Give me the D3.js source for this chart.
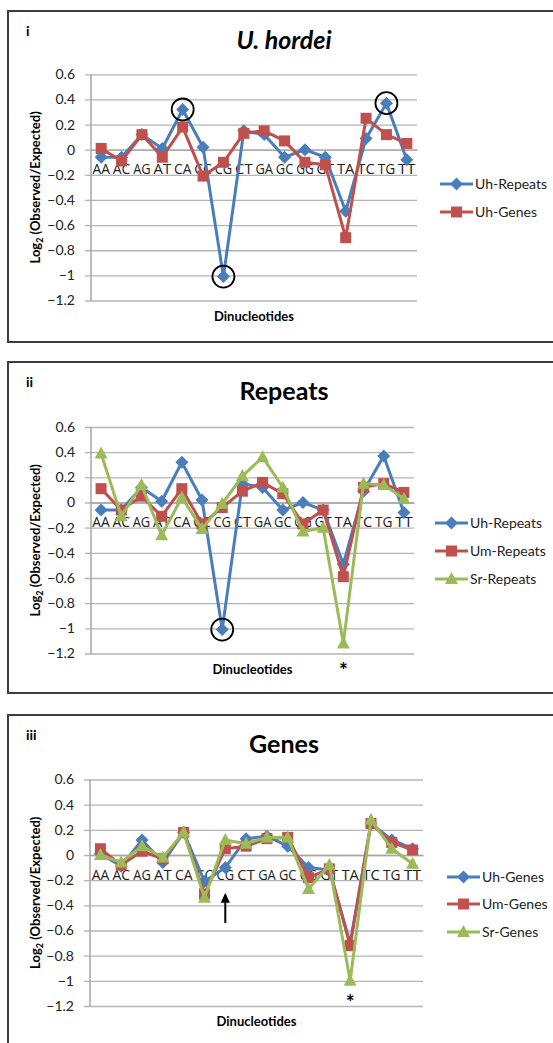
<!DOCTYPE html>
<html>
<head>
<meta charset="utf-8">
<script src="https://cdn.jsdelivr.net/npm/d3@7"></script>
<style>
  body { margin: 0; background: #fff; }
  svg { display: block; font-family: Lato, "Open Sans", sans-serif; }
</style>
</head>
<body>
<svg id="chart" width="553" height="1043"></svg>
<script>
// dinucleotides on the category axis
const categories = ["AA","AC","AG","AT","CA","CC","CG","CT","GA","GC","GG","GT","TA","TC","TG","TT"];
const yTicks = [0.6, 0.4, 0.2, 0, -0.2, -0.4, -0.6, -0.8, -1, -1.2];

// log2(observed/expected) per dinucleotide
const uhRepeats = [-0.06,-0.06, 0.12, 0.01, 0.32, 0.02,-1.01, 0.15, 0.12,-0.06, 0.00,-0.06,-0.49, 0.09, 0.37,-0.08];
const uhGenes   = [ 0.01,-0.09, 0.12,-0.06, 0.18,-0.21,-0.10, 0.13, 0.15, 0.07,-0.10,-0.12,-0.70, 0.25, 0.12, 0.05];
const umRepeats = [ 0.11,-0.06, 0.05,-0.11, 0.11,-0.17,-0.04, 0.09, 0.16, 0.07,-0.17,-0.06,-0.59, 0.12, 0.15, 0.08];
const srRepeats = [ 0.39,-0.11, 0.14,-0.26, 0.04,-0.21,-0.01, 0.21, 0.36, 0.12,-0.23,-0.20,-1.12, 0.15, 0.14, 0.03];
const umGenes   = [ 0.05,-0.08, 0.03,-0.03, 0.18,-0.31, 0.05, 0.07, 0.13, 0.14,-0.18,-0.11,-0.72, 0.25, 0.10, 0.04];
const srGenes   = [ 0.00,-0.06, 0.07,-0.02, 0.18,-0.34, 0.12, 0.09, 0.14, 0.14,-0.27,-0.08,-1.00, 0.28, 0.05,-0.07];

const BLUE = "#4a7ebb", RED = "#c0504d", GREEN = "#9bbb59";

const panels = [
  {
    tag: "i", title: "U. hordei", italic: true,
    box: { top: 11, bottom: 342 },
    plot: { left: 91, right: 417, top: 74.3, bottom: 300.5 },
    legend: { x: 440, ys: [184, 212] },
    series: [
      { name: "Uh-Repeats", values: uhRepeats, color: BLUE, shape: "diamond" },
      { name: "Uh-Genes", values: uhGenes, color: RED, shape: "square" }
    ],
    circles: [["CA", 0.32], ["CG", -1.01], ["TG", 0.37]]
  },
  {
    tag: "ii", title: "Repeats",
    box: { top: 362, bottom: 693 },
    plot: { left: 91, right: 414, top: 427, bottom: 653.5 },
    legend: { x: 435, ys: [523, 551, 579] },
    series: [
      { name: "Uh-Repeats", values: uhRepeats, color: BLUE, shape: "diamond" },
      { name: "Um-Repeats", values: umRepeats, color: RED, shape: "square" },
      { name: "Sr-Repeats", values: srRepeats, color: GREEN, shape: "triangle" }
    ],
    circles: [["CG", -1.01]],
    star: ["TA", -1.12, 24]
  },
  {
    tag: "iii", title: "Genes",
    box: { top: 715, bottom: 1060 },
    plot: { left: 90, right: 423, top: 779.5, bottom: 1006 },
    legend: { x: 447, ys: [877, 904, 932] },
    series: [
      { name: "Uh-Genes", values: uhGenes, color: BLUE, shape: "diamond" },
      { name: "Um-Genes", values: umGenes, color: RED, shape: "square" },
      { name: "Sr-Genes", values: srGenes, color: GREEN, shape: "triangle" }
    ],
    star: ["TA", -1.0, 18],
    arrow: ["CG", -0.3, -0.54]
  }
];

const svg = d3.select("#chart");

function markerPath(shape) {
  if (shape === "diamond") return "M0,-6.5L6.5,0L0,6.5L-6.5,0Z";
  if (shape === "square") return "M-5.5,-5.5H5.5V5.5H-5.5Z";
  return "M0,-7L6.5,5L-6.5,5Z";
}

panels.forEach(drawPanel);

function drawPanel(p) {
  const g = svg.append("g");

  // panel frame (open on the right, like the cropped figure)
  g.append("path")
    .attr("d", `M553,${p.box.top}H8V${p.box.bottom}H553`)
    .attr("fill", "none")
    .attr("stroke", "#3c3c3c")
    .attr("stroke-width", 2);

  g.append("text")
    .attr("x", 26).attr("y", p.box.top + 25)
    .attr("font-size", 14).attr("font-weight", "bold")
    .text(p.tag);

  g.append("text")
    .attr("x", 284).attr("y", p.box.top + 38)
    .attr("text-anchor", "middle")
    .attr("font-size", 25).attr("font-weight", "bold")
    .attr("font-style", p.italic ? "italic" : "normal")
    .text(p.title);

  const x = d3.scaleBand().domain(categories).range([p.plot.left, p.plot.right]);
  const y = d3.scaleLinear().domain([-1.2, 0.6]).range([p.plot.bottom, p.plot.top]);
  const cx = c => x(c) + x.bandwidth() / 2;

  // gridlines + y axis
  const yAxis = d3.axisLeft(y).tickValues(yTicks)
    .tickSize(-(p.plot.right - p.plot.left + 6))
    .tickPadding(10)
    .tickFormat(d => d === 0 ? "0" : d3.format("")(d));
  const ya = g.append("g")
    .attr("transform", `translate(${p.plot.left - 6},0)`)
    .call(yAxis);
  ya.select(".domain").remove();
  ya.selectAll(".tick line").attr("stroke", "#b4b4b4").attr("stroke-width", 1.3);
  ya.selectAll(".tick text")
    .attr("font-size", 14).attr("fill", "#222")
    .attr("font-family", "Lato, sans-serif");

  g.append("line")
    .attr("x1", p.plot.left).attr("x2", p.plot.left)
    .attr("y1", p.plot.top).attr("y2", p.plot.bottom)
    .attr("stroke", "#a6a6a6").attr("stroke-width", 1.5);

  // category axis crosses at 0
  const xa = g.append("g")
    .attr("transform", `translate(0,${y(0)})`)
    .call(d3.axisBottom(x).tickSize(0).tickPadding(14));
  xa.select(".domain").attr("stroke", "#a6a6a6").attr("stroke-width", 1.3);
  xa.selectAll(".tick text")
    .attr("font-size", 15).attr("fill", "#222")
    .attr("font-family", "'Open Sans', sans-serif")
    .attr("textLength", 17.5)
    .attr("lengthAdjust", "spacingAndGlyphs");

  // axis titles
  const yt = g.append("text")
    .attr("transform", `translate(40,${(p.plot.top + p.plot.bottom) / 2}) rotate(-90)`)
    .attr("text-anchor", "middle")
    .attr("font-size", 13).attr("font-weight", "bold");
  yt.append("tspan").text("Log");
  yt.append("tspan").attr("font-size", 9).attr("dy", 3).text("2");
  yt.append("tspan").attr("dy", -3).text(" (Observed/Expected)");

  g.append("text")
    .attr("x", (p.plot.left + p.plot.right) / 2)
    .attr("y", p.plot.bottom + 20)
    .attr("text-anchor", "middle")
    .attr("font-size", 13).attr("font-weight", "bold")
    .text("Dinucleotides");

  // series
  const line = d3.line().x((d, i) => cx(categories[i])).y(d => y(d));
  p.series.forEach(s => {
    g.append("path")
      .datum(s.values)
      .attr("d", line)
      .attr("fill", "none")
      .attr("stroke", s.color)
      .attr("stroke-width", 3)
      .attr("stroke-linejoin", "round");
    g.selectAll(null)
      .data(s.values)
      .enter().append("path")
      .attr("d", markerPath(s.shape))
      .attr("transform", (d, i) => `translate(${cx(categories[i])},${y(d)})`)
      .attr("fill", s.color);
  });

  // legend
  p.series.forEach((s, i) => {
    const ly = p.legend.ys[i];
    const lg = g.append("g");
    lg.append("line")
      .attr("x1", p.legend.x).attr("x2", p.legend.x + 33)
      .attr("y1", ly).attr("y2", ly)
      .attr("stroke", s.color).attr("stroke-width", 3);
    lg.append("path")
      .attr("d", markerPath(s.shape))
      .attr("transform", `translate(${p.legend.x + 16.5},${ly})`)
      .attr("fill", s.color);
    lg.append("text")
      .attr("x", p.legend.x + 35).attr("y", ly)
      .attr("dy", "0.35em")
      .attr("font-size", 14).attr("fill", "#222")
      .text(s.name);
  });

  // annotations
  (p.circles || []).forEach(([c, v]) => {
    g.append("circle")
      .attr("cx", cx(c)).attr("cy", y(v)).attr("r", 11)
      .attr("fill", "none").attr("stroke", "#000").attr("stroke-width", 1.8);
  });
  if (p.star) {
    const [c, v, off] = p.star;
    g.append("text")
      .attr("x", cx(c)).attr("y", y(v) + off + 11)
      .attr("text-anchor", "middle")
      .attr("font-size", 21).attr("font-weight", "bold")
      .text("*");
  }
  if (p.arrow) {
    const [c, v0, v1] = p.arrow;
    const ax = cx(c);
    g.append("line")
      .attr("x1", ax).attr("x2", ax)
      .attr("y1", y(v0) + 8).attr("y2", y(v1))
      .attr("stroke", "#000").attr("stroke-width", 2);
    g.append("path")
      .attr("d", `M${ax},${y(v0)}L${ax + 4.5},${y(v0) + 10}L${ax - 4.5},${y(v0) + 10}Z`)
      .attr("fill", "#000");
  }
}
</script>
</body>
</html>
